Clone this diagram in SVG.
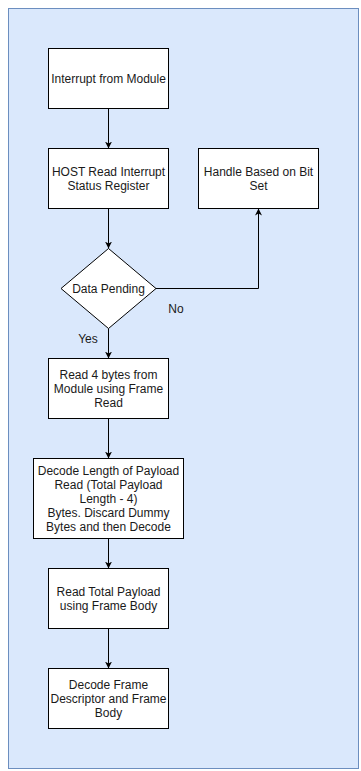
<svg xmlns="http://www.w3.org/2000/svg" width="361" height="771" viewBox="0 0 361 771">
<style>
.box{fill:#ffffff;stroke:#000000;stroke-width:1}
.t{font-family:"Liberation Sans",Arial,Helvetica,sans-serif;font-size:12px;fill:#1a1a1a;text-anchor:middle}
.edge{fill:none;stroke:#000000;stroke-width:1}
</style>
<defs>
<marker id="arr" viewBox="0 0 10 10" refX="10" refY="5" markerWidth="7" markerHeight="8" markerUnits="userSpaceOnUse" orient="auto">
<path d="M0,0 L10,5 L0,10 L3,5 Z" fill="#000000"/>
</marker>
</defs>
<g id="container">
<rect x="8.5" y="8.5" width="350" height="760" fill="#dae8fc" stroke="#6c8ebf" stroke-width="1"/>
</g>
<g id="connectors">
<path class="edge" d="M108.5,108.5 V148.5" marker-end="url(#arr)"/>
<path class="edge" d="M108.5,208.5 V248.5" marker-end="url(#arr)"/>
<path class="edge" d="M156,288.5 H258.5 V208.5" marker-end="url(#arr)"/>
<path class="edge" d="M108.5,328.5 V358.5" marker-end="url(#arr)"/>
<path class="edge" d="M108.5,418.5 V458.5" marker-end="url(#arr)"/>
<path class="edge" d="M108.5,538.5 V568.5" marker-end="url(#arr)"/>
<path class="edge" d="M108.5,628.5 V668.5" marker-end="url(#arr)"/>
<text class="t" x="176" y="313">No</text>
<text class="t" x="88" y="343">Yes</text>
</g>
<g id="n1">
<rect class="box" x="48.5" y="48.5" width="120" height="60"/>
<text class="t" x="108.5" y="82.5">Interrupt from Module</text>
</g>
<g id="n2">
<rect class="box" x="48.5" y="148.5" width="120" height="60"/>
<text class="t" x="108.5" y="175.5">HOST Read Interrupt</text>
<text class="t" x="108.5" y="189.5">Status Register</text>
</g>
<g id="n3">
<rect class="box" x="198.5" y="148.5" width="120" height="60"/>
<text class="t" x="258.5" y="175.5">Handle Based on Bit</text>
<text class="t" x="258.5" y="189.5">Set</text>
</g>
<g id="n4">
<path class="box" d="M108.5,248.5 L156,288.5 L108.5,328.5 L61,288.5 Z"/>
<text class="t" x="108.5" y="293">Data Pending</text>
</g>
<g id="n5">
<rect class="box" x="48.5" y="358.5" width="120" height="60"/>
<text class="t" x="108.5" y="378.5">Read 4 bytes from</text>
<text class="t" x="108.5" y="392.5">Module using Frame</text>
<text class="t" x="108.5" y="406.5">Read</text>
</g>
<g id="n6">
<rect class="box" x="33.5" y="458.5" width="150" height="80"/>
<text class="t" x="108.5" y="475">Decode Length of Payload</text>
<text class="t" x="108.5" y="489">Read (Total Payload</text>
<text class="t" x="108.5" y="503">Length - 4)</text>
<text class="t" x="108.5" y="517">Bytes. Discard Dummy</text>
<text class="t" x="108.5" y="531">Bytes and then Decode</text>
</g>
<g id="n7">
<rect class="box" x="48.5" y="568.5" width="120" height="60"/>
<text class="t" x="108.5" y="595.5">Read Total Payload</text>
<text class="t" x="108.5" y="609.5">using Frame Body</text>
</g>
<g id="n8">
<rect class="box" x="48.5" y="668.5" width="120" height="60"/>
<text class="t" x="108.5" y="688.5">Decode Frame</text>
<text class="t" x="108.5" y="702.5">Descriptor and Frame</text>
<text class="t" x="108.5" y="716.5">Body</text>
</g>
</svg>
